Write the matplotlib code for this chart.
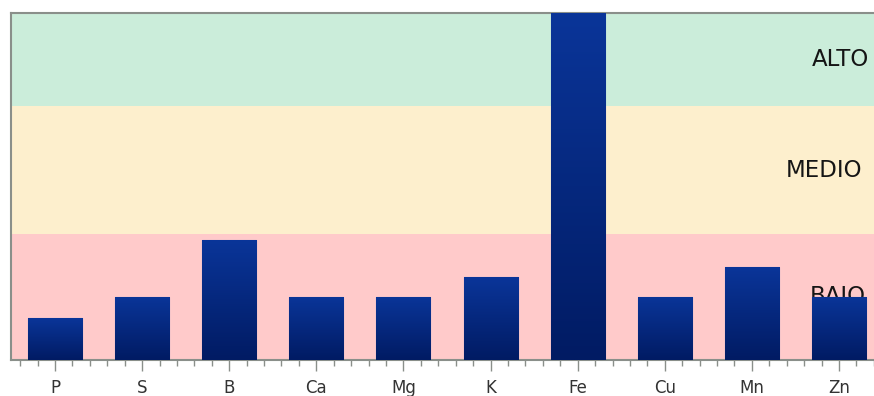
import matplotlib
matplotlib.use("Agg")
import matplotlib.pyplot as plt
import matplotlib.transforms as mtransforms
import numpy as np
from matplotlib.ticker import MultipleLocator
from matplotlib.colors import LinearSegmentedColormap

categories = ["P", "S", "B", "Ca", "Mg", "K", "Fe", "Cu", "Mn", "Zn"]
values = [12.1, 18.2, 34.6, 18.2, 18.2, 23.9, 120.0, 18.2, 26.8, 18.2]
band_limits = [0, 36.3, 73.2, 100]
band_labels = ["BAJO", "MEDIO", "ALTO"]
band_label_y = [18.2, 54.7, 86.5]
band_colors = ["#ffcaca", "#fdefcd", "#cbedda"]

W, H = 874, 396
fig = plt.figure(figsize=(W / 100, H / 100), dpi=100)
ax = fig.add_axes([11 / W, 36 / H, (883 - 11) / W, 347 / H])

x = np.arange(len(categories))

for lo, hi, c in zip(band_limits[:-1], band_limits[1:], band_colors):
    ax.axhspan(lo, hi, color=c, zorder=0, lw=0)

# band labels (drawn beneath bars)
label_x = [810, 786, 812]
blend = mtransforms.blended_transform_factory(fig.transFigure, ax.transData)
for lab, ly, lx in zip(band_labels, band_label_y, label_x):
    ax.text(lx / W, ly, lab, transform=blend, ha="left", va="center",
            fontsize=16.5, family=["DejaVu Sans"], color="#151515", zorder=1)

bars = ax.bar(x, values, width=0.62, color="#0a2f8f", edgecolor="#5a6fc0",
              linewidth=0.8, zorder=2)

grad = np.linspace(1, 0, 256).reshape(-1, 1)
cmap = LinearSegmentedColormap.from_list("g", ["#011b63", "#0a3599"])
for b in bars:
    x0, y0 = b.get_x(), b.get_y()
    w, h = b.get_width(), b.get_height()
    im = ax.imshow(grad, extent=(x0, x0 + w, y0, min(y0 + h, band_limits[-1])),
                   aspect="auto", cmap=cmap, zorder=3, origin="upper")
    im.set_clip_path(b)

ax.set_xlim(-0.505, len(categories) - 1 + 0.505)
ax.set_ylim(band_limits[0], band_limits[-1])

ax.set_xticks(x)
ax.set_xticklabels(categories, family=["Liberation Sans Narrow", "DejaVu Sans"],
                   fontsize=12, color="#333333")
ax.xaxis.set_minor_locator(MultipleLocator(0.2))
ax.tick_params(axis="x", which="major", length=8, width=1, color="#8a8f8a", pad=6)
ax.tick_params(axis="x", which="minor", length=4, width=1, color="#8a8f8a")
ax.set_yticks([])

for s in ["left", "top", "bottom"]:
    ax.spines[s].set_color("#8a8f8a")
    ax.spines[s].set_linewidth(1.5)
ax.spines["right"].set_visible(False)

fig.savefig("out.png", dpi=100)
